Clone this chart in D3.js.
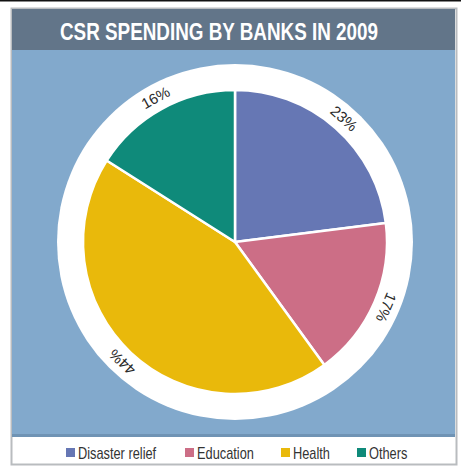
<!DOCTYPE html>
<html>
<head>
<meta charset="utf-8">
<script src="https://cdn.jsdelivr.net/npm/d3@7"></script>
<style>
  body { margin: 0; background: #fff; }
  svg { display: block; }
</style>
</head>
<body>
<svg width="461" height="466"></svg>
<script>
const title = "CSR SPENDING BY BANKS IN 2009";
const categories = ["Disaster relief", "Education", "Health", "Others"];
const shares = [23, 17, 44, 16];
const colours = ["#6677b4", "#cc6e86", "#e9b90b", "#0f8a7a"];

const sans = "'Liberation Sans', Arial, sans-serif";
const svg = d3.select("svg");

// frame
svg.append("rect").attr("x", 0).attr("y", 0).attr("width", 461).attr("height", 1.5).attr("fill", "#111");
svg.append("rect").attr("x", 11.5).attr("y", 8.5).attr("width", 445).attr("height", 456)
  .attr("fill", "#fff").attr("stroke", "#b9bcbf").attr("stroke-width", 2);
svg.append("rect").attr("x", 12).attr("y", 9).attr("width", 443).attr("height", 41).attr("fill", "#627589");
svg.append("rect").attr("x", 12).attr("y", 50).attr("width", 443).attr("height", 386).attr("fill", "#82a9cc");
svg.append("rect").attr("x", 12).attr("y", 434).attr("width", 443).attr("height", 3).attr("fill", "#6f93b4");

// condensed look: squeeze horizontally
svg.append("text").attr("transform", "translate(60,40) scale(0.82,1)")
  .attr("font-family", sans).attr("font-weight", "bold").attr("font-size", 23)
  .attr("fill", "#fff").text(title);

// pie
const cx = 235, cy = 242, rOuter = 178, rPie = 152;
const g = svg.append("g").attr("transform", `translate(${cx},${cy})`);
g.append("circle").attr("r", rOuter).attr("fill", "#fff");

const pie = d3.pie().sort(null).value(d => d)(shares);
const arc = d3.arc().innerRadius(0).outerRadius(rPie);
const colour = d3.scaleOrdinal().domain(categories).range(colours);

g.selectAll("path.slice").data(pie).join("path")
  .attr("class", "slice")
  .attr("d", arc)
  .attr("fill", (d, i) => colour(categories[i]))
  .attr("stroke", "#fff").attr("stroke-width", 2.5).attr("stroke-linejoin", "round");

g.selectAll("text.pct").data(pie).join("text")
  .attr("class", "pct")
  .attr("transform", d => {
    const a = (d.startAngle + d.endAngle) / 2 * 180 / Math.PI;
    return `rotate(${a}) translate(0,${-(rPie + 13)})`;
  })
  .attr("text-anchor", "middle").attr("dominant-baseline", "central")
  .attr("font-family", sans).attr("font-size", 15)
  .attr("fill", "#2a2a2a")
  .text(d => d.data + "%");

// legend
const legendPos = [66, 185, 281, 357];
const lg = svg.append("g").selectAll("g").data(categories).join("g")
  .attr("transform", (d, i) => `translate(${legendPos[i]},453)`);
lg.append("rect").attr("x", 0).attr("y", -5).attr("width", 9).attr("height", 9)
  .attr("fill", d => colour(d));
lg.append("text").attr("transform", "translate(12,0) scale(0.8,1)")
  .attr("dominant-baseline", "central")
  .attr("font-family", sans).attr("font-size", 16).attr("fill", "#333")
  .text(d => d);
</script>
</body>
</html>
